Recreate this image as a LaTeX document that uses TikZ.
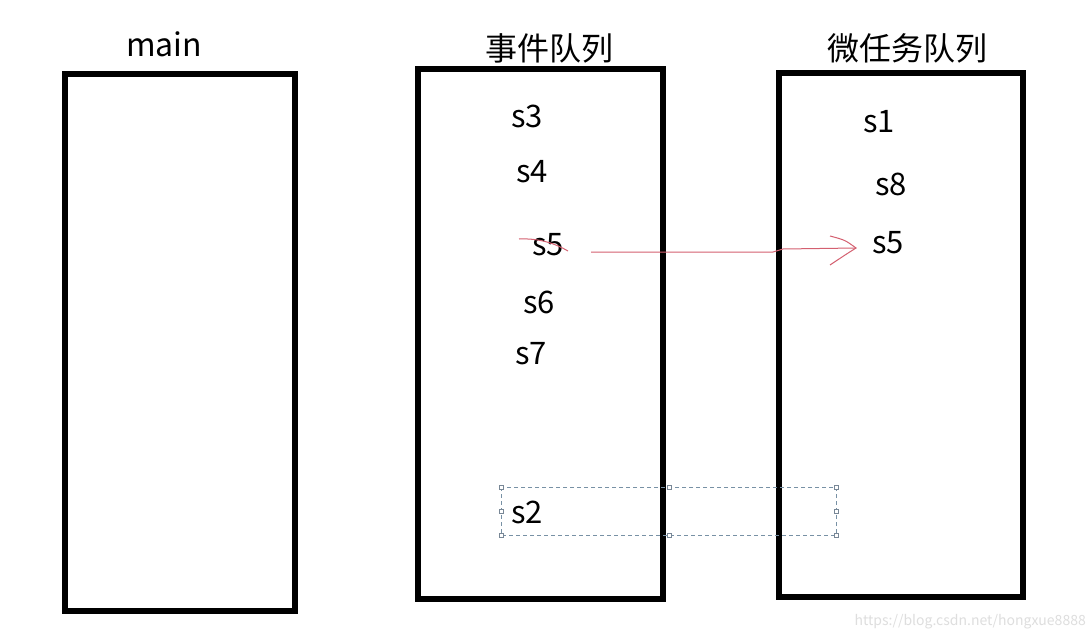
\documentclass[tikz,border=0pt]{standalone}
\usepackage{fontspec}
\setmainfont{Noto Sans CJK SC}
\begin{document}
\begin{tikzpicture}[x=1pt,y=-1pt,
  queue/.style={draw=black,line width=5.5pt,fill=none},
  lbl/.style={font=\fontsize{31}{34}\selectfont,inner sep=0pt,anchor=center},
  title/.style={font=\fontsize{32}{35}\selectfont,inner sep=0pt},
  redline/.style={draw={rgb,255:red,212;green,96;blue,112},line width=1pt},
  handle/.style={draw={rgb,255:red,120;green,135;blue,150},fill=white,minimum size=4pt,inner sep=0pt,line width=0.6pt},
  sel/.style={draw={rgb,255:red,120;green,145;blue,165},dash pattern=on 4pt off 3pt,line width=0.8pt}]
\useasboundingbox (0,0) rectangle (1092,642);
\fill[white] (0,0) rectangle (1092,642);
% boxes
\draw[queue] (65,74) rectangle (295,611);
\draw[queue] (418,69) rectangle (663,599);
\draw[queue] (779,73) rectangle (1023,597);
\node[title] (tmain) at (164,44) {main};
\node[title] (tev) at (549,48) {事件队列};
\node[title] (tmic) at (907,48) {微任务队列};
% event queue items
\node[lbl] (s3) at (527,116) {s3};
\node[lbl] (s4) at (532,172) {s4};
\node[lbl] (s5a) at (548,245) {s5};
\node[lbl] (s6) at (539,302) {s6};
\node[lbl] (s7) at (531,354) {s7};
\node[lbl] (s2) at (527,512) {s2};
% micro queue items
\node[lbl] (s1) at (879,122) {s1};
\node[lbl] (s8) at (891,184) {s8};
\node[lbl] (s5b) at (888,243) {s5};
% red strike and arrow
\coordinate (st1) at (519,239);
\coordinate (st2) at (568,251);
\draw[redline] (st1) .. controls (540,238) and (556,244) .. (st2);
\coordinate (a0) at (591,252);
\coordinate (a1) at (773,252);
\coordinate (a2) at (856,248);
\draw[redline] (a0) -- (a1) -- (783,249) -- (a2);
\draw[redline] (830,236) .. controls (845,240) .. (a2) .. controls (845,255) .. (830,265);
% selection rectangle
\draw[sel] (501,487) rectangle (836,535);
\foreach \p/\n in {{501,487}/h1,{669,487}/h2,{836,487}/h3,{501,511}/h4,{836,511}/h5,{501,535}/h6,{669,535}/h7,{836,535}/h8}
  \node[handle] (\n) at (\p) {};
% watermark
\node[font=\fontsize{14}{16}\selectfont,text={rgb,255:red,222;green,222;blue,222},anchor=east,inner sep=0pt] (wm) at (1086,622) {https://blog.csdn.net/hongxue8888};
\end{tikzpicture}
\end{document}
